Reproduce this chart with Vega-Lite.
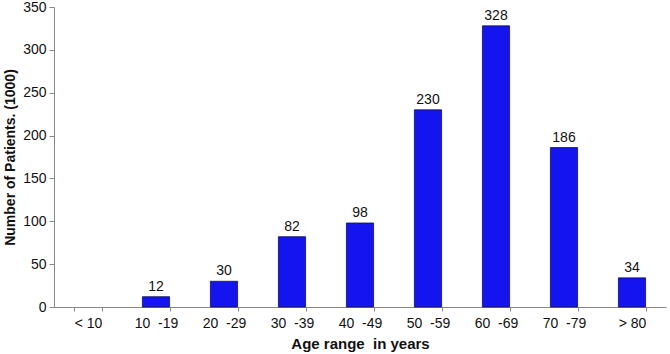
{
  "$schema": "https://vega.github.io/schema/vega-lite/v6.json",
  "width": 612,
  "height": 300,
  "autosize": {"type": "none"},
  "padding": {"left": 54, "top": 7, "right": 4, "bottom": 47},
  "background": "white",
  "config": {
    "view": {"stroke": null},
    "font": "Liberation Sans",
    "axis": {"grid": false, "domainColor": "#888888", "tickColor": "#888888", "labelColor": "#111111", "titleColor": "#111111"}
  },
  "data": {
    "values": [
      {"age": "< 10", "patients": 0},
      {"age": "10 \u00a0-19", "patients": 12},
      {"age": "20 \u00a0-29", "patients": 30},
      {"age": "30 \u00a0-39", "patients": 82},
      {"age": "40 \u00a0-49", "patients": 98},
      {"age": "50 \u00a0-59", "patients": 230},
      {"age": "60 \u00a0-69", "patients": 328},
      {"age": "70 \u00a0-79", "patients": 186},
      {"age": "> 80", "patients": 34}
    ]
  },
  "encoding": {
    "x": {
      "field": "age", "type": "nominal", "sort": null,
      "scale": {"domain": ["< 10", "10 \u00a0-19", "20 \u00a0-29", "30 \u00a0-39", "40 \u00a0-49", "50 \u00a0-59", "60 \u00a0-69", "70 \u00a0-79", "> 80"], "paddingInner": 0.6, "paddingOuter": 0.3},
      "axis": {"title": "Age range \u00a0in years", "titleFontSize": 15, "titleFontWeight": "bold", "titlePadding": 6, "labelAngle": 0, "labelFontSize": 14, "labelPadding": 5, "tickBand": "extent", "tickSize": 4}
    },
    "y": {
      "field": "patients", "type": "quantitative",
      "scale": {"domain": [0, 350]},
      "axis": {"title": "Number of Patients. (1000)", "titleFontSize": 14, "titleFontWeight": "bold", "titlePadding": 5, "values": [0, 50, 100, 150, 200, 250, 300, 350], "labelFontSize": 14, "tickSize": 5, "labelPadding": 3}
    }
  },
  "layer": [
    {
      "transform": [{"filter": "datum.patients > 0"}],
      "mark": {"type": "bar", "color": "#1414f0", "stroke": "#101050", "strokeWidth": 0.8}
    },
    {
      "transform": [{"filter": "datum.patients > 0"}],
      "mark": {"type": "text", "dy": -10, "fontSize": 14, "color": "#111111"},
      "encoding": {"text": {"field": "patients", "type": "quantitative"}}
    }
  ]
}
